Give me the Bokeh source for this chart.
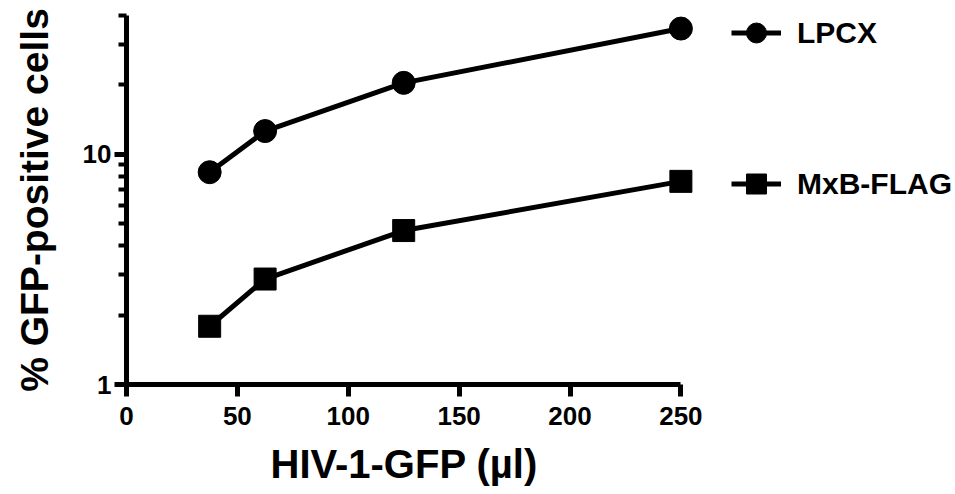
from bokeh.plotting import figure
from bokeh.models import (Range1d, FixedTicker, PrintfTickFormatter, Legend, LegendItem, Title)
from bokeh.embed import file_html
from bokeh.resources import INLINE

# data
virus_ul = [37.5, 62.5, 125, 250]
lpcx = [8.35, 12.6, 20.4, 35.1]
mxb_flag = [1.79, 2.87, 4.66, 7.62]
x_ticks = [0, 50, 100, 150, 200, 250]
y_ticks = [1, 10]
y_minor = [2, 3, 4, 5, 6, 7, 8, 9, 20, 30, 40]
x_label = "HIV-1-GFP (µl)"
y_label = "% GFP-positive cells"

FONT = "Liberation Sans"

p = figure(output_backend="svg", toolbar_location=None,
           y_axis_type="log", x_range=Range1d(0, 262), y_range=Range1d(1, 40),
           frame_width=581, frame_height=369,
           min_border_left=126, min_border_top=15, min_border_right=240, min_border_bottom=100)
p.outline_line_color = None
p.xgrid.visible = False
p.ygrid.visible = False
p.background_fill_color = "white"
p.border_fill_color = "white"

l1 = p.line(virus_ul, lpcx, line_width=5, line_color="black")
s1 = p.scatter(virus_ul, lpcx, marker="circle", size=23, fill_color="black", line_color="black")
l2 = p.line(virus_ul, mxb_flag, line_width=5, line_color="black")
s2 = p.scatter(virus_ul, mxb_flag, marker="square", size=22, fill_color="black", line_color="black")

for ax in (p.xaxis[0], p.yaxis[0]):
    ax.axis_line_width = 5
    ax.axis_line_color = "black"
    ax.major_tick_line_width = 5
    ax.major_tick_line_color = "black"
    ax.minor_tick_line_width = 4
    ax.major_tick_in = 0
    ax.minor_tick_in = 0
    ax.major_label_text_font = FONT
    ax.major_label_text_font_style = "bold"
    ax.major_label_text_font_size = "26px"
    ax.major_label_text_color = "black"
    ax.axis_label_text_font = FONT
    ax.axis_label_text_font_style = "bold"
    ax.axis_label_text_font_size = "39px"
    ax.axis_label_text_color = "black"

p.xaxis.ticker = FixedTicker(ticks=x_ticks)
p.xaxis.bounds = (0, 250)
p.xaxis.major_tick_out = 12
p.xaxis.minor_tick_line_color = None
p.xaxis.major_label_standoff = 10

xtitle = Title(text=x_label, align="left", offset=144, standoff=28,
               vertical_align="top",
               text_font=FONT, text_font_style="bold", text_font_size="40px",
               text_color="black")
p.add_layout(xtitle, "below")

p.yaxis.ticker = FixedTicker(ticks=y_ticks, minor_ticks=y_minor)
p.yaxis.formatter = PrintfTickFormatter(format="%d")
p.yaxis.major_tick_out = 12
p.yaxis.minor_tick_out = 8
p.yaxis.minor_tick_line_color = "black"
p.yaxis.major_label_standoff = 3
p.yaxis.axis_label = y_label
p.yaxis.axis_label_standoff = 24

legend = Legend(items=[LegendItem(label="LPCX", renderers=[l1, s1]),
                       LegendItem(label="MxB-FLAG", renderers=[l2, s2])],
                location=(24, 173), orientation="vertical",
                glyph_width=50, glyph_height=55, label_height=55,
                spacing=96, padding=0, margin=0, label_standoff=16,
                border_line_color=None, background_fill_alpha=0,
                label_text_font=FONT, label_text_font_style="bold",
                label_text_font_size="30px", label_text_color="black")
p.add_layout(legend, "right")

open("out.html", "w").write(file_html(p, INLINE))
